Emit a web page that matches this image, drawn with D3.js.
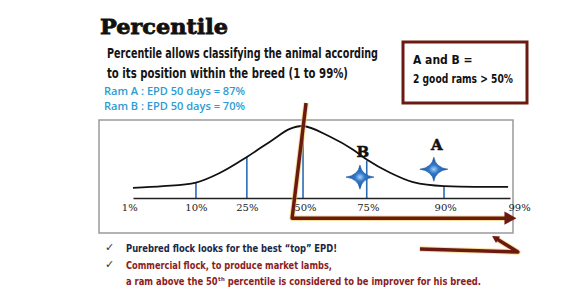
<!DOCTYPE html>
<html>
<head>
<meta charset="utf-8">
<script src="https://cdn.jsdelivr.net/npm/d3@7"></script>
<style>
  body { margin: 0; background: #fff; }
  svg { display: block; }
</style>
</head>
<body>
<svg id="chart"></svg>
<script>
// ---- data ----
// curve points: position along axis (0..100) and relative height (0..1)
var curvePos = [0, 8, 16.7, 23.1, 30.2, 37.1, 41.6, 44.8, 52.3, 58.4, 62.1, 68.2, 74.3, 82.5, 90.7, 99.5];
var curveVal = [0.14, 0.165, 0.215, 0.35, 0.57, 0.81, 0.96, 1.0, 0.85, 0.67, 0.53, 0.35, 0.22, 0.165, 0.155, 0.155];

// percentile ticks and where they sit on the axis
var tickLabels = ["1%", "10%", "25%", "50%", "75%", "90%", "99%"];
var tickPos = [-1, 16.7, 30.2, 45.6, 62.3, 82.8, 102.4];

// blue percentile markers (10..90) and their heights
var markerPct = ["10%", "25%", "50%", "75%", "90%"];
var markerPos = [16.7, 30.2, 45.1, 62, 82.5];
var markerVal = [0.21, 0.57, 0.99, 0.52, 0.165];

// rams
var ramNames = ["A", "B"];
var ramEPD = [87, 70];
var ramPos = [79.8, 60.2];
var ramVal = [0.40, 0.29];

// annotation arrows, in axis units
var bigArrow = [[45.9, 1.32], [42.2, -0.28], [99.8, -0.28]];
var smallArrow = [[76.1, -0.71], [102.1, -0.75], [96.2, -0.56]];

// ---- canvas ----
var W = 566, H = 300;
var svg = d3.select("#chart").attr("width", W).attr("height", H);
svg.append("rect").attr("width", W).attr("height", H).attr("fill", "#fff");

var defs = svg.append("defs");
var grad = defs.append("radialGradient").attr("id", "starFill");
grad.append("stop").attr("offset", "0%").attr("stop-color", "#a9d0f5");
grad.append("stop").attr("offset", "35%").attr("stop-color", "#2f78c8");
grad.append("stop").attr("offset", "100%").attr("stop-color", "#1a55a6");

var maroon = "#6b1a12";
var navy = "#1b2747";
var red = "#8c1c1c";
var teal = "#2d9bd2";
var blue = "#2a6cb4";

// ---- headings ----
svg.append("text")
    .attr("x", 100).attr("y", 34)
    .attr("font-family", "DejaVu Serif, serif")
    .attr("font-weight", "bold")
    .attr("font-size", 21)
    .attr("fill", "#111").attr("stroke", "#111").attr("stroke-width", 0.8)
    .attr("textLength", 128).attr("lengthAdjust", "spacingAndGlyphs")
    .text("Percentile");

var narrow = "Liberation Sans Narrow, DejaVu Sans Condensed, Arial Narrow, sans-serif";

svg.append("text")
    .attr("x", 107).attr("y", 58)
    .attr("font-family", narrow).attr("font-weight", "bold").attr("font-size", 14)
    .attr("fill", "#141414")
    .attr("textLength", 271).attr("lengthAdjust", "spacingAndGlyphs")
    .text("Percentile allows classifying the animal according");

svg.append("text")
    .attr("x", 107).attr("y", 78)
    .attr("font-family", narrow).attr("font-weight", "bold").attr("font-size", 14)
    .attr("fill", "#141414")
    .attr("textLength", 241).attr("lengthAdjust", "spacingAndGlyphs")
    .text("to its position within the breed (1 to 99%)");

ramNames.forEach(function (n, i) {
    svg.append("text")
        .attr("x", 104).attr("y", 95 + i * 15)
        .attr("font-family", "Open Sans, sans-serif").attr("font-weight", 600)
        .attr("font-size", 10).attr("fill", teal)
        .attr("textLength", 141).attr("lengthAdjust", "spacingAndGlyphs")
        .text("Ram " + n + " : EPD 50 days = " + ramEPD[i] + "%");
});

// ---- boxed note ----
svg.append("rect")
    .attr("x", 403).attr("y", 42).attr("width", 124).attr("height", 61)
    .attr("fill", "#fff").attr("stroke", maroon).attr("stroke-width", 3);

svg.append("text")
    .attr("x", 413).attr("y", 64)
    .attr("font-family", narrow).attr("font-weight", "bold").attr("font-size", 12)
    .attr("fill", "#111")
    .text("A and B =");

svg.append("text")
    .attr("x", 413).attr("y", 83)
    .attr("font-family", narrow).attr("font-weight", "bold").attr("font-size", 12)
    .attr("fill", "#111")
    .attr("textLength", 100).attr("lengthAdjust", "spacingAndGlyphs")
    .text("2 good rams > 50%");

// ---- chart frame ----
svg.append("rect")
    .attr("x", 99).attr("y", 120).attr("width", 414).attr("height", 113)
    .attr("fill", "#fff").attr("stroke", "#9a9a9a").attr("stroke-width", 1.5);

var x = d3.scaleLinear().domain([0, 100]).range([133, 510]);
var y = d3.scaleLinear().domain([0, 1]).range([198, 126]);

var curve = curvePos.map(function (p, i) { return { pos: p, val: curveVal[i] }; });

// blue markers
svg.append("g").selectAll("line")
    .data(markerPos)
    .enter().append("line")
    .attr("x1", d => x(d)).attr("x2", d => x(d))
    .attr("y1", y(0)).attr("y2", (d, i) => y(markerVal[i]))
    .attr("stroke", blue).attr("stroke-width", 1.6);

// bell curve
var line = d3.line()
    .x(d => x(d.pos))
    .y(d => y(d.val))
    .curve(d3.curveMonotoneX);

svg.append("path")
    .datum(curve)
    .attr("d", line)
    .attr("fill", "none").attr("stroke", "#111").attr("stroke-width", 1.8);

// axis
var axis = svg.append("g")
    .attr("transform", "translate(0," + y(0) + ")")
    .call(d3.axisBottom(x)
        .tickValues(tickPos)
        .tickSize(0)
        .tickPadding(6)
        .tickFormat((d, i) => tickLabels[i]));
axis.select(".domain").attr("stroke", "#222").attr("stroke-width", 1.5);
axis.selectAll("text")
    .attr("font-family", "DejaVu Serif, serif")
    .attr("font-size", 10).attr("fill", "#222");

// rams: stars + letters
var sparkle = {
    draw: function (ctx, size) {
        var r = Math.sqrt(size);
        var c = r * 0.13;
        ctx.moveTo(0, -r);
        ctx.quadraticCurveTo(c, -c, r, 0);
        ctx.quadraticCurveTo(c, c, 0, r);
        ctx.quadraticCurveTo(-c, c, -r, 0);
        ctx.quadraticCurveTo(-c, -c, 0, -r);
        ctx.closePath();
    }
};

var rams = svg.append("g").selectAll("g")
    .data(ramNames)
    .enter().append("g")
    .attr("transform", (d, i) => "translate(" + x(ramPos[i]) + "," + y(ramVal[i]) + ")");

rams.append("path")
    .attr("d", d3.symbol().type(sparkle).size(196))
    .attr("transform", "scale(1,0.86)")
    .attr("fill", "url(#starFill)").attr("stroke", "#174d96").attr("stroke-width", 0.6);

rams.append("text")
    .attr("x", 3).attr("y", (d, i) => i === 0 ? -19 : -20)
    .attr("text-anchor", "middle")
    .attr("font-family", "DejaVu Serif, serif").attr("font-weight", "bold")
    .attr("font-size", 15).attr("fill", "#111")
    .attr("stroke", "#111").attr("stroke-width", 0.5)
    .text(d => d);

// ---- annotation arrows ----
var arrowLine = d3.line().x(d => x(d[0])).y(d => y(d[1]));

function drawArrow(pts, headSize) {
    svg.append("path")
        .attr("d", arrowLine(pts))
        .attr("fill", "none").attr("stroke", "#f0c24a").attr("stroke-width", 5.5)
        .attr("stroke-opacity", 0.55).attr("stroke-linejoin", "round");
    svg.append("path")
        .attr("d", arrowLine(pts))
        .attr("fill", "none").attr("stroke", maroon).attr("stroke-width", 3.5)
        .attr("stroke-linejoin", "round");
    var a = pts[pts.length - 2], b = pts[pts.length - 1];
    var ang = Math.atan2(y(b[1]) - y(a[1]), x(b[0]) - x(a[0])) * 180 / Math.PI;
    svg.append("path")
        .attr("d", "M0,0L" + (-headSize) + "," + (-headSize * 0.55) + "L" + (-headSize) + "," + (headSize * 0.55) + "Z")
        .attr("transform", "translate(" + x(b[0]) + "," + y(b[1]) + ") rotate(" + ang + ") translate(" + headSize * 0.6 + ",0)")
        .attr("fill", maroon);
}

drawArrow(bigArrow, 12);
drawArrow(smallArrow, 7);

// ---- bullet points ----
var bullets = [
    { text: "Purebred flock looks for the best \u201Ctop\u201D EPD!", color: navy, len: 211, check: true },
    { text: "Commercial flock, to produce market lambs,", color: red, len: 206, check: true },
    { text: "a ram above the 50\u1D57\u02B0 percentile is considered to be improver for his breed.", color: red, len: 355, check: false }
];
bullets.forEach(function (b, i) {
    var yy = 252 + i * 16.5;
    if (b.check) {
        svg.append("text")
            .attr("x", 105).attr("y", yy - 1)
            .attr("font-family", "DejaVu Sans, sans-serif").attr("font-size", 11)
            .attr("fill", "#333").text("\u2713");
    }
    svg.append("text")
        .attr("x", 126).attr("y", yy)
        .attr("font-family", narrow).attr("font-weight", "bold").attr("font-size", 11)
        .attr("fill", b.color)
        .attr("textLength", b.len).attr("lengthAdjust", "spacingAndGlyphs")
        .text(b.text);
});
</script>
</body>
</html>
